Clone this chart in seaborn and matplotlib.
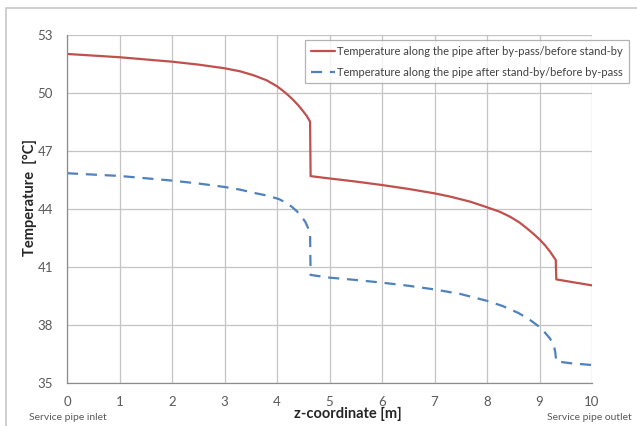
import matplotlib
matplotlib.use("Agg")
import matplotlib.pyplot as plt
from matplotlib.patches import Rectangle
from matplotlib.ticker import MultipleLocator
import seaborn as sns

# Temperature profile after by-pass / before stand-by
z_bypass = [0, 1, 2, 2.5, 3, 3.3, 3.55, 3.8, 4.0, 4.12, 4.22, 4.31, 4.4, 4.5, 4.57, 4.63,
            4.64, 5, 5.5, 6, 6.5, 7, 7.3, 7.68, 8, 8.25, 8.44, 8.62, 8.76, 8.9, 9.01, 9.1,
            9.2, 9.31, 9.32, 9.6, 10]
t_bypass = [52.02, 51.85, 51.62, 51.47, 51.28, 51.12, 50.92, 50.66, 50.35, 50.1, 49.87, 49.64,
            49.38, 49.05, 48.8, 48.52, 45.7, 45.58, 45.42, 45.24, 45.04, 44.81, 44.64, 44.38,
            44.09, 43.85, 43.6, 43.3, 43.0, 42.68, 42.4, 42.14, 41.8, 41.36, 40.36, 40.23, 40.05]

# Temperature profile after stand-by / before by-pass
z_standby = [0, 1, 2, 2.5, 3, 3.3, 3.55, 3.8, 4.03, 4.17, 4.28, 4.38, 4.47, 4.54, 4.58, 4.63,
             4.64, 5, 5.5, 6, 6.5, 7, 7.5, 8, 8.3, 8.6, 8.8, 9.0, 9.1, 9.2, 9.27, 9.3, 9.32,
             9.6, 10]
t_standby = [45.85, 45.71, 45.47, 45.32, 45.14, 45.0, 44.84, 44.7, 44.52, 44.33, 44.12, 43.88,
             43.6, 43.33, 43.09, 42.74, 40.59, 40.45, 40.33, 40.19, 40.03, 39.84, 39.6, 39.25,
             38.98, 38.62, 38.3, 37.9, 37.62, 37.3, 36.97, 36.6, 36.12, 36.02, 35.93]

labels = ["Temperature along the pipe after by-pass/before stand-by",
          "Temperature along the pipe after stand-by/before by-pass"]

x_ticks = list(range(0, 11))
y_ticks = [35, 38, 41, 44, 47, 50, 53]

sns.set_style("white")
plt.rcParams["font.family"] = ["Lato", "DejaVu Sans"]

W, H = 637, 426
fig = plt.figure(figsize=(W / 100, H / 100), dpi=100)
ax = fig.add_axes([67 / W, 1 - 383 / H, (592 - 67) / W, (383 - 35) / H])

# outer chart border
fig.patches.append(Rectangle((6 / W, -0.1), 1.2, 1.1 - 8 / H, transform=fig.transFigure,
                             fill=False, edgecolor="#c8c8c8", linewidth=1.2, zorder=0))

red = "#c0504d"
blue = "#4f81bd"

sns.lineplot(x=z_bypass, y=t_bypass, ax=ax, color=red, linewidth=1.6,
             sort=False, estimator=None, label=labels[0])
sns.lineplot(x=z_standby, y=t_standby, ax=ax, color=blue, linewidth=1.6,
             sort=False, estimator=None, label=labels[1])
ax.lines[1].set_dashes([5, 3.5])
for ln in ax.lines[:2]:
    ln.set_solid_joinstyle("round")
    ln.set_dash_joinstyle("round")

ax.set_xlim(0, 10)
ax.set_ylim(35, 53)
ax.set_xticks(x_ticks)
ax.set_yticks(y_ticks)
ax.xaxis.set_minor_locator(MultipleLocator(0.5))
ax.grid(True, which="major", color="#c4c4c4", linewidth=0.9)
ax.set_axisbelow(True)

for s in ["top", "right"]:
    ax.spines[s].set_visible(False)
for s in ["left", "bottom"]:
    ax.spines[s].set_color("#8c8c8c")
    ax.spines[s].set_linewidth(0.9)

ax.tick_params(axis="both", which="both", colors="#8c8c8c", labelcolor="#595959",
               labelsize=9.5)
ax.tick_params(axis="x", which="both", direction="inout", length=5, width=0.8, pad=7)
ax.tick_params(axis="y", which="major", direction="out", length=4, width=0.8, pad=6)

ax.set_xlabel("")
ax.set_ylabel("")

fig.text(30 / W, 1 - 197 / H, "Temperature  [°C]", ha="center", va="center", rotation=90,
         fontsize=10.5, fontweight="bold")
fig.text(348 / W, 1 - 414 / H, "z-coordinate [m]", ha="center", va="center",
         fontsize=10.5, fontweight="bold")
fig.text(29 / W, 1 - 418 / H, "Service pipe inlet", ha="left", va="center",
         fontsize=7.5, color="#595959")
fig.text(547 / W, 1 - 418 / H, "Service pipe outlet", ha="left", va="center",
         fontsize=7.5, color="#595959")

ax.get_legend().remove()
handles = ax.lines[:2]
leg = fig.legend(handles, labels, loc="upper left", bbox_to_anchor=(305 / W, 1 - 40 / H),
                 bbox_transform=fig.transFigure, fontsize=8, frameon=True, fancybox=False,
                 edgecolor="#a0a0a0", handlelength=2.2, handletextpad=0.2,
                 labelspacing=0.9, borderpad=0.5, borderaxespad=0)
leg.get_frame().set_linewidth(0.9)
for t in leg.get_texts():
    t.set_color("#404040")

fig.savefig("out.png", dpi=100)
